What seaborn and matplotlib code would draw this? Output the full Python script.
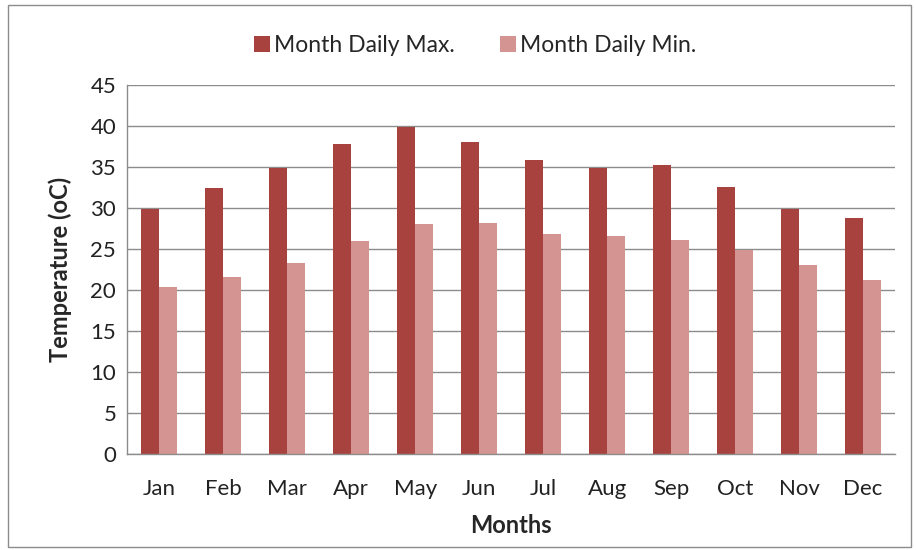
import numpy as np
import pandas as pd
import seaborn as sns
from matplotlib import pyplot as plt
from matplotlib.patches import Rectangle

# ------- data --------------
months = ["Jan", "Feb", "Mar", "Apr", "May", "Jun",
          "Jul", "Aug", "Sep", "Oct", "Nov", "Dec"]
daily_max = [29.8, 32.4, 34.9, 37.8, 39.8, 38.0, 35.8, 34.9, 35.2, 32.5, 29.8, 28.8]
daily_min = [20.3, 21.6, 23.3, 25.9, 28.0, 28.1, 26.8, 26.6, 26.1, 24.9, 23.0, 21.2]
series = ["Month Daily Max.", "Month Daily Min."]
colors = ["#A8423F", "#D49492"]
# ---------------------------

df = pd.DataFrame({
    "month": months * 2,
    "temp": daily_max + daily_min,
    "serie": [series[0]] * 12 + [series[1]] * 12,
})

sns.set_style("white")
plt.rcParams['font.family'] = ['Lato', 'DejaVu Sans']

fig = plt.figure(figsize=(9.16, 5.5), dpi=100)
ax = fig.add_axes([0.139, 0.175, 0.838, 0.671])

sns.barplot(data=df, x="month", y="temp", hue="serie", palette=colors,
            width=0.56, saturation=1, linewidth=0, ax=ax, legend=True)

ax.set_ylim(0, 45)
ax.set_yticks(np.arange(0, 46, 5))
ax.set_xlim(-0.5, 11.5)
ax.yaxis.grid(True, color="#8c8c8c", linewidth=1)
ax.set_axisbelow(True)
for s in ["top", "right"]:
    ax.spines[s].set_visible(False)
for s in ["left", "bottom"]:
    ax.spines[s].set_color("#8c8c8c")
    ax.spines[s].set_linewidth(1)
ax.tick_params(axis="both", labelsize=16, colors="#222222", length=0)
ax.tick_params(axis="y", pad=8)
ax.tick_params(axis="x", pad=18)

ax.set_xlabel("Months", fontsize=17, fontweight="bold", labelpad=11)
ax.set_ylabel("Temperature (oC)", fontsize=17, fontweight="bold", labelpad=13)

leg = ax.legend(loc="upper center", bbox_to_anchor=(0.453, 1.19), ncol=2,
                frameon=False, fontsize=16.5, handlelength=0.7, handleheight=0.7,
                handletextpad=0.15, columnspacing=2.0)

# contour gris autour de la figure
fig.patches.append(Rectangle((0.009, 0.006), 0.985, 0.985, transform=fig.transFigure,
                             fill=False, edgecolor="#8c8c8c", linewidth=1))

plt.savefig("out.png", dpi=100)
